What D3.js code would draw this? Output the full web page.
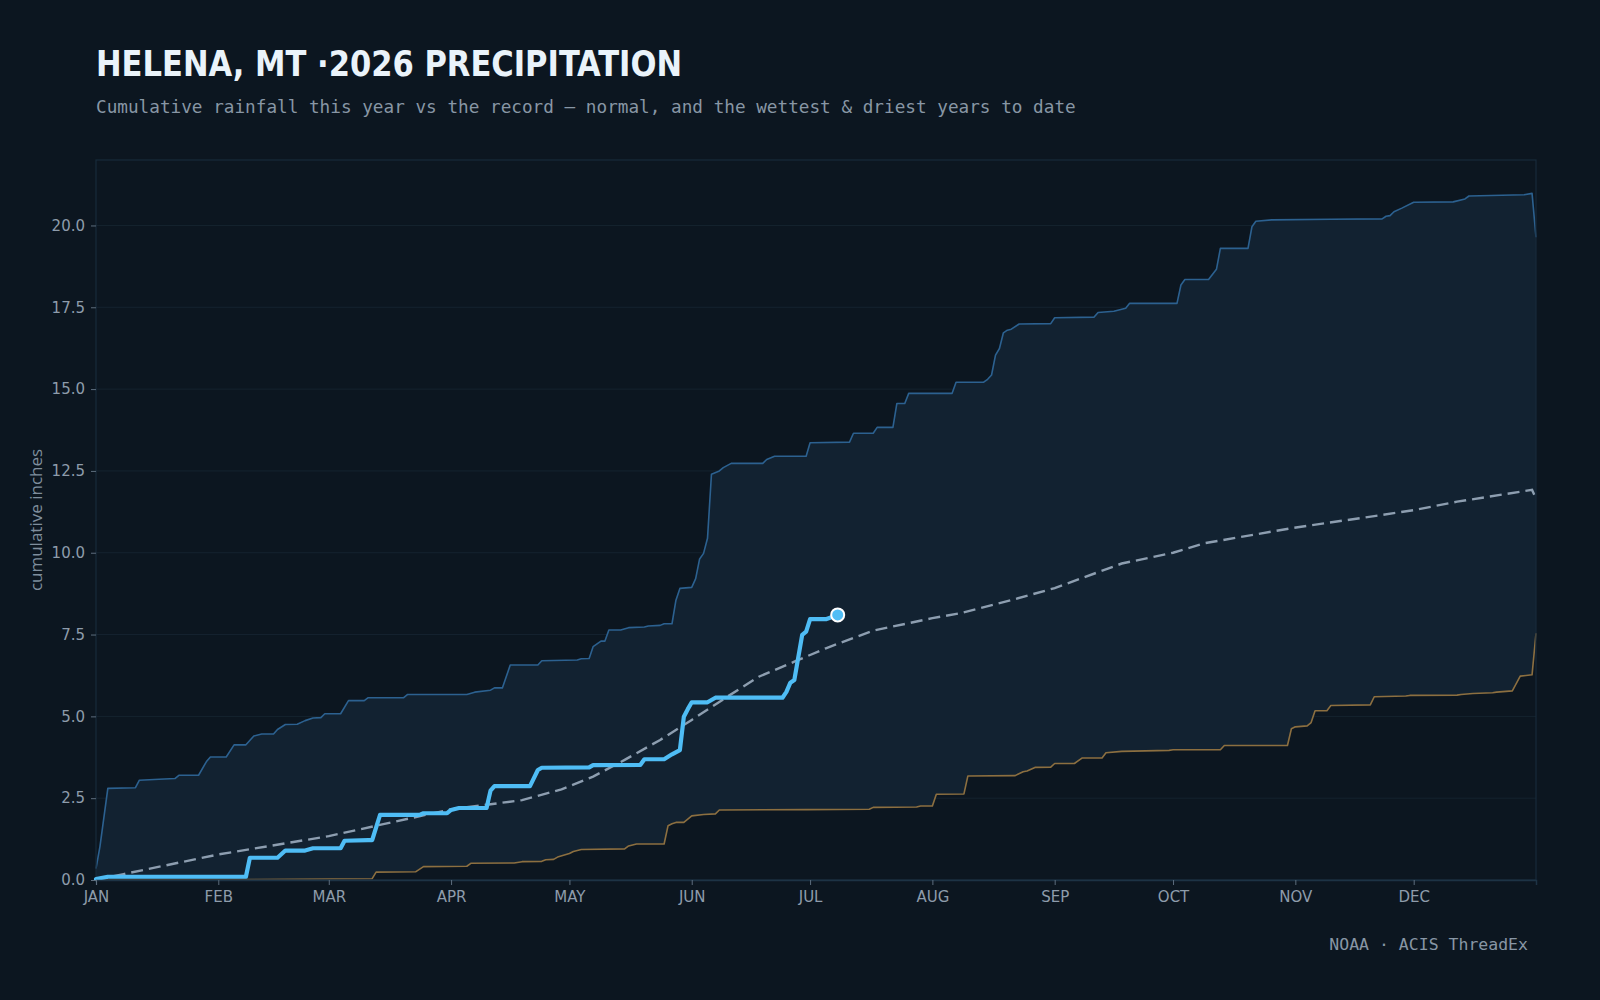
<!DOCTYPE html>
<html>
<head>
<meta charset="utf-8">
<script src="https://cdn.jsdelivr.net/npm/d3@7"></script>
<style>
  html, body { margin: 0; padding: 0; background: #0c1620; }
  svg { display: block; }
</style>
</head>
<body>
<div id="container"></div>
<script>
// Month labels and y ticks
const months = ["JAN", "FEB", "MAR", "APR", "MAY", "JUN", "JUL", "AUG", "SEP", "OCT", "NOV", "DEC"];
const yTicks = [0, 2.5, 5, 7.5, 10, 12.5, 15, 17.5, 20];

// [day of year, cumulative inches]
const wettest = [[0,0.35],[1,1.02],[3,2.80],[10,2.82],[11,3.05],[16,3.08],[20,3.10],[21,3.20],[26,3.20],[28,3.62],[29,3.76],[33,3.76],[35,4.13],[38,4.13],[40,4.40],[42,4.46],[45,4.46],[46,4.60],[48,4.75],[51,4.76],[53,4.87],[55,4.95],[57,4.96],[58,5.08],[62,5.08],[64,5.48],[68,5.48],[69,5.57],[78,5.57],[79,5.67],[94,5.67],[96,5.74],[100,5.80],[101,5.87],[103,5.87],[105,6.57],[112,6.57],[113,6.70],[122,6.72],[123,6.76],[125,6.77],[126,7.13],[128,7.30],[129,7.30],[130,7.64],[133,7.64],[135,7.71],[139,7.73],[140,7.76],[143,7.78],[144,7.83],[146,7.83],[147,8.55],[148,8.91],[151,8.94],[152,9.21],[153,9.81],[154,9.98],[155,10.44],[156,12.40],[158,12.50],[159,12.60],[161,12.73],[169,12.73],[170,12.85],[172,12.95],[180,12.95],[181,13.36],[191,13.38],[192,13.65],[197,13.65],[198,13.83],[202,13.83],[203,14.56],[205,14.56],[206,14.87],[217,14.87],[218,15.21],[225,15.21],[226,15.30],[227,15.43],[228,16.04],[229,16.24],[230,16.72],[231,16.80],[232,16.83],[234,16.99],[242,17.00],[243,17.18],[253,17.20],[254,17.34],[258,17.38],[261,17.47],[262,17.62],[274,17.62],[275,18.18],[276,18.35],[282,18.35],[284,18.66],[285,19.30],[292,19.30],[293,19.96],[294,20.13],[298,20.17],[313,20.19],[326,20.20],[327,20.28],[328,20.30],[329,20.42],[331,20.53],[334,20.71],[344,20.72],[347,20.81],[348,20.90],[362,20.94],[364,20.98],[365,19.64]];

const driest = [[0,0],[40,0.01],[60,0.03],[70,0.04],[71,0.24],[81,0.25],[83,0.41],[94,0.42],[95,0.51],[106,0.52],[108,0.56],[113,0.57],[114,0.62],[116,0.63],[117,0.70],[120,0.81],[121,0.87],[123,0.93],[134,0.95],[135,1.04],[137,1.10],[144,1.10],[145,1.66],[146,1.72],[147,1.76],[149,1.76],[151,1.96],[154,2.00],[157,2.02],[158,2.14],[180,2.15],[196,2.16],[197,2.22],[208,2.23],[209,2.26],[212,2.26],[213,2.62],[220,2.63],[221,3.18],[233,3.19],[235,3.31],[236,3.33],[238,3.44],[242,3.45],[243,3.56],[248,3.56],[250,3.73],[255,3.73],[256,3.89],[260,3.93],[272,3.96],[273,3.98],[285,3.98],[286,4.11],[302,4.11],[303,4.62],[304,4.68],[307,4.71],[308,4.81],[309,5.17],[312,5.17],[313,5.33],[323,5.35],[324,5.60],[332,5.62],[333,5.64],[345,5.65],[346,5.67],[349,5.70],[354,5.72],[355,5.74],[359,5.78],[361,6.23],[364,6.27],[365,7.54]];

const normal = [[0,0],[7,0.18],[31,0.78],[59,1.34],[90,2.16],[108,2.44],[118,2.77],[126,3.16],[134,3.67],[143,4.28],[151,4.89],[160,5.60],[168,6.21],[177,6.67],[185,7.08],[197,7.62],[212,8.00],[219,8.15],[232,8.55],[243,8.92],[260,9.67],[273,10.0],[281,10.29],[303,10.75],[324,11.12],[334,11.30],[345,11.56],[364,11.92],[365,11.66]];

const current = [[0,0.03],[3,0.10],[38,0.10],[39,0.68],[46,0.68],[48,0.90],[53,0.90],[55,0.97],[62,0.97],[63,1.20],[69,1.22],[70,1.22],[72,1.99],[82,1.99],[83,2.04],[89,2.04],[90,2.14],[92,2.20],[99,2.20],[100,2.73],[101,2.87],[110,2.87],[112,3.36],[113,3.43],[125,3.44],[126,3.51],[138,3.52],[139,3.69],[144,3.69],[146,3.84],[148,3.97],[149,4.99],[150,5.22],[151,5.43],[155,5.43],[157,5.57],[174,5.57],[175,5.75],[176,6.03],[177,6.11],[179,7.49],[180,7.59],[181,7.97],[185,7.97],[188,8.10]];

// Size
let chart_width = 1600;
let chart_height = 1000;
let plot = {left: 96, right: 1536, top: 160, bottom: 880};

const year0 = new Date(2026, 0, 1);
const year1 = new Date(2027, 0, 1);
const toDate = (d) => d3.timeDay.offset(year0, d);

let x = d3.scaleTime().domain([year0, year1]).range([plot.left, plot.right]);
let y = d3.scaleLinear().domain([0, 22]).range([plot.bottom, plot.top]);

let svg = d3.select("#container")
  .append("svg")
  .attr("width", chart_width)
  .attr("height", chart_height);

svg.append("rect")
  .attr("width", chart_width)
  .attr("height", chart_height)
  .attr("fill", "#0c1620");

// Gridlines
svg.append("g")
  .selectAll("line")
  .data(yTicks)
  .enter()
  .append("line")
  .attr("x1", plot.left)
  .attr("x2", plot.right)
  .attr("y1", (d) => y(d))
  .attr("y2", (d) => y(d))
  .attr("stroke", "#15232f")
  .attr("stroke-width", 1);

let line = d3.line()
  .x((d) => x(toDate(d[0])))
  .y((d) => y(d[1]));

// Band between driest and wettest
let band = wettest.concat(driest.slice().reverse());
svg.append("path")
  .attr("d", line(band) + "Z")
  .attr("fill", "#122231");

// Wettest year
svg.append("path")
  .attr("d", line(wettest))
  .attr("fill", "none")
  .attr("stroke", "#2c6190")
  .attr("stroke-width", 1.6)
  .attr("stroke-linejoin", "round");

// Driest year
svg.append("path")
  .attr("d", line(driest))
  .attr("fill", "none")
  .attr("stroke", "#8c6f40")
  .attr("stroke-width", 1.6)
  .attr("stroke-linejoin", "round");

// Normal
svg.append("path")
  .attr("d", line(normal))
  .attr("fill", "none")
  .attr("stroke", "#8d9eb0")
  .attr("stroke-width", 2.4)
  .attr("stroke-dasharray", "12,6");

// Plot frame
svg.append("rect")
  .attr("x", plot.left)
  .attr("y", plot.top)
  .attr("width", plot.right - plot.left)
  .attr("height", plot.bottom - plot.top)
  .attr("fill", "none")
  .attr("stroke", "#182b3b")
  .attr("stroke-width", 1.2);

// This year
svg.append("path")
  .attr("d", line(current))
  .attr("fill", "none")
  .attr("stroke", "#4fbdf5")
  .attr("stroke-width", 4.2)
  .attr("stroke-linejoin", "round")
  .attr("stroke-linecap", "round");

let last = current[current.length - 1];
svg.append("circle")
  .attr("cx", x(toDate(last[0])))
  .attr("cy", y(last[1]))
  .attr("r", 6.5)
  .attr("fill", "#4fbdf5")
  .attr("stroke", "#ffffff")
  .attr("stroke-width", 2);

// Axes
let xAxis = d3.axisBottom(x)
  .tickValues(d3.timeMonth.range(year0, year1))
  .tickFormat((d) => months[d.getMonth()])
  .tickSize(5)
  .tickPadding(6);
let gx = svg.append("g")
  .attr("transform", "translate(0," + plot.bottom + ")")
  .call(xAxis);
gx.select(".domain").attr("stroke", "#1d3345").attr("stroke-width", 1.5);

let yAxis = d3.axisLeft(y)
  .tickValues(yTicks)
  .tickFormat(d3.format(".1f"))
  .tickSize(5)
  .tickPadding(6);
let gy = svg.append("g")
  .attr("transform", "translate(" + plot.left + ",0)")
  .call(yAxis);
gy.select(".domain").remove();

svg.selectAll(".tick line").attr("stroke", "#5d6d7d");
svg.selectAll(".tick text")
  .attr("fill", "#8e9cab")
  .style("font-family", "'DejaVu Sans', sans-serif")
  .style("font-size", "15px");

// Y label
svg.append("text")
  .attr("transform", "translate(42,520) rotate(-90)")
  .attr("text-anchor", "middle")
  .attr("fill", "#7f8e9d")
  .style("font-family", "'Open Sans', sans-serif")
  .style("font-size", "17px")
  .text("cumulative inches");

// Title
svg.append("text")
  .attr("x", 96)
  .attr("y", 76)
  .attr("fill", "#eaf3fa")
  .attr("textLength", 586)
  .attr("lengthAdjust", "spacingAndGlyphs")
  .style("font-family", "'DejaVu Sans Condensed', 'DejaVu Sans', sans-serif")
  .style("font-weight", "bold")
  .style("font-size", "35px")
  .text("HELENA, MT \u00b72026 PRECIPITATION");

// Subtitle
svg.append("text")
  .attr("x", 96)
  .attr("y", 112.5)
  .attr("fill", "#8896a5")
  .style("font-family", "'DejaVu Sans Mono', monospace")
  .style("font-size", "17.7px")
  .text("Cumulative rainfall this year vs the record \u2014 normal, and the wettest & driest years to date");

// Source
svg.append("text")
  .attr("x", 1528)
  .attr("y", 950)
  .attr("text-anchor", "end")
  .attr("fill", "#8896a5")
  .style("font-family", "'DejaVu Sans Mono', monospace")
  .style("font-size", "16.5px")
  .text("NOAA \u00b7 ACIS ThreadEx");
</script>
</body>
</html>
